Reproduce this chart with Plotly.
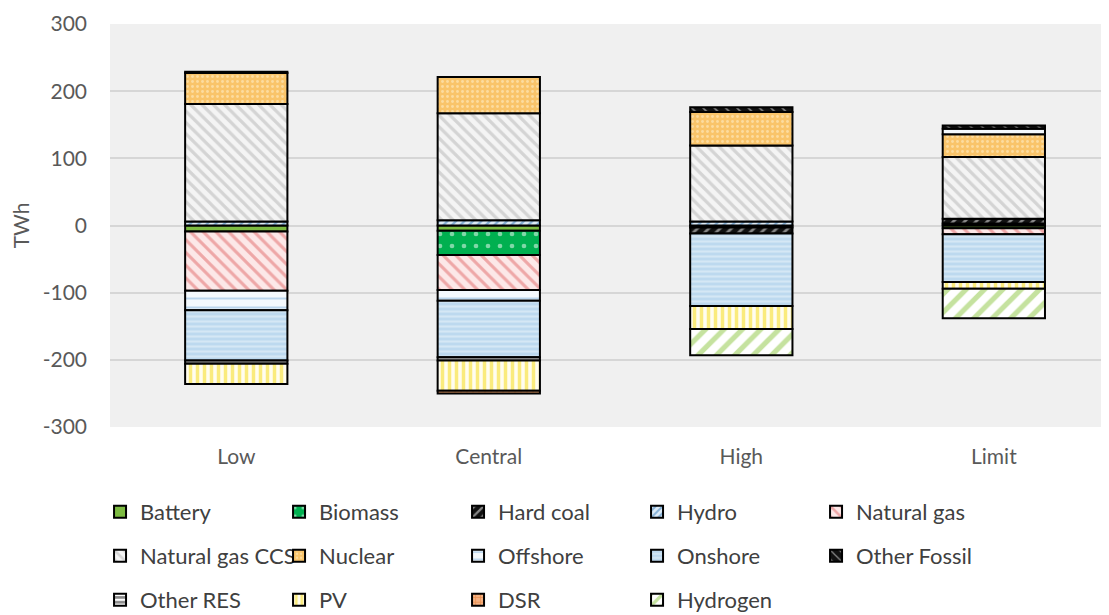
import plotly.graph_objects as go

categories = ["Low", "Central", "High", "Limit"]

battery = [-9, -8, -3, -4]
biomass = [None, -36, None, 3]
hard_coal = [None, None, -9, 7]
hydro = [6, 8, 6, None]
natural_gas = [-88, -52, None, -9]
natural_gas_ccs = [175, 159, 113, 92]
nuclear = [46, 54, 50, 34]
offshore = [-29, -16, None, 8]
onshore = [-75, -84, -108, -71]
other_fossil = [2, None, 7, 5]
other_res = [-5, -5, None, None]
pv = [-30, -45, -34, -10]
dsr = [None, -4, None, None]
hydrogen = [None, None, -39, -44]

y_ticks = [-300, -200, -100, 0, 100, 200, 300]
y_tick_labels = ["-300", "-200", "-100", "0", "100", "200", "300"]

series = [
    ("Battery", battery, dict(shape="", bgcolor="#7DBB42", fgcolor="#7DBB42"), "legend"),
    ("Biomass", biomass, dict(shape=".", bgcolor="#00B050", fgcolor="#FFFFFF", size=12, solidity=0.12), "legend"),
    ("Hard coal", hard_coal, dict(shape="/", bgcolor="#111111", fgcolor="#FFFFFF", size=8, solidity=0.35), "legend"),
    ("Hydro", hydro, dict(shape="/", bgcolor="#DDEBF7", fgcolor="#2E75B6", size=6, solidity=0.4), "legend"),
    ("Natural gas", natural_gas, dict(shape="\\", bgcolor="#FCE8E8", fgcolor="#E06666", size=9, solidity=0.35), "legend"),
    ("Natural gas CCS", natural_gas_ccs, dict(shape="\\", bgcolor="#F4F4F4", fgcolor="#B4B4B4", size=8, solidity=0.4), "legend2"),
    ("Nuclear", nuclear, dict(shape=".", bgcolor="#F9C46A", fgcolor="#FFF3D6", size=5, solidity=0.25), "legend2"),
    ("Offshore", offshore, dict(shape="-", bgcolor="#F4F9FD", fgcolor="#7FB2DE", size=9, solidity=0.22), "legend2"),
    ("Onshore", onshore, dict(shape="-", bgcolor="#BDD9EF", fgcolor="#EEF6FC", size=5, solidity=0.4), "legend2"),
    ("Other Fossil", other_fossil, dict(shape="\\", bgcolor="#111111", fgcolor="#FFFFFF", size=8, solidity=0.2), "legend2"),
    ("Other RES", other_res, dict(shape="-", bgcolor="#FFFFFF", fgcolor="#111111", size=6, solidity=0.55), "legend3"),
    ("PV", pv, dict(shape="|", bgcolor="#FFFDF0", fgcolor="#F5D90A", size=7, solidity=0.5), "legend3"),
    ("DSR", dsr, dict(shape="+", bgcolor="#F4B183", fgcolor="#E07020", size=6, solidity=0.3), "legend3"),
    ("Hydrogen", hydrogen, dict(shape="/", bgcolor="#FFFFFF", fgcolor="#8CC63F", size=13, solidity=0.4), "legend3"),
]

fig = go.Figure()
for name, vals, pat, leg in series:
    marker = dict(color=pat["bgcolor"], line=dict(color="#000000", width=2))
    if pat["shape"]:
        marker["pattern"] = dict(shape=pat["shape"], bgcolor=pat["bgcolor"], fgcolor=pat["fgcolor"],
                                 size=pat["size"], solidity=pat["solidity"], fillmode="overlay")
    fig.add_trace(go.Bar(name=name, x=categories, y=vals, marker=marker, legend=leg))

FONT = "Lato, 'Open Sans', sans-serif"
leg_common = dict(orientation="h", xanchor="left", yanchor="middle", xref="container", yref="container",
                  entrywidth=134, entrywidthmode="pixels", itemwidth=30, bgcolor="rgba(0,0,0,0)",
                  font=dict(family=FONT, size=22, color="#404040"), traceorder="normal",
                  itemclick=False)

fig.update_layout(
    width=1101, height=607,
    margin=dict(l=102, r=0, t=16, b=188, autoexpand=False),
    barmode="relative",
    bargap=0.595,
    paper_bgcolor="#FFFFFF",
    plot_bgcolor="#F0F0F0",
    font=dict(family=FONT, size=21, color="#595959"),
    showlegend=True,
    legend=dict(x=0.0836, y=0.1697, **leg_common),
    legend2=dict(x=0.0836, y=0.0972, **leg_common),
    legend3=dict(x=0.0836, y=0.0247, **leg_common),
    xaxis=dict(range=[-0.5, 3.456], showgrid=False, showline=False, zeroline=False,
               ticks="", ticklabelstandoff=15, automargin=False,
               tickfont=dict(size=21, color="#595959")),
    yaxis=dict(range=[-300, 300], tickvals=y_ticks, ticktext=y_tick_labels, showgrid=True,
               gridcolor="#D6D6D6", gridwidth=1.5, zeroline=False, showline=False, ticks="",
               ticklabelstandoff=22, automargin=False, tickfont=dict(size=21, color="#595959"),
               title=dict(text="TWh", standoff=14, font=dict(size=21, color="#595959"))),
)

fig.write_html("out.html")
